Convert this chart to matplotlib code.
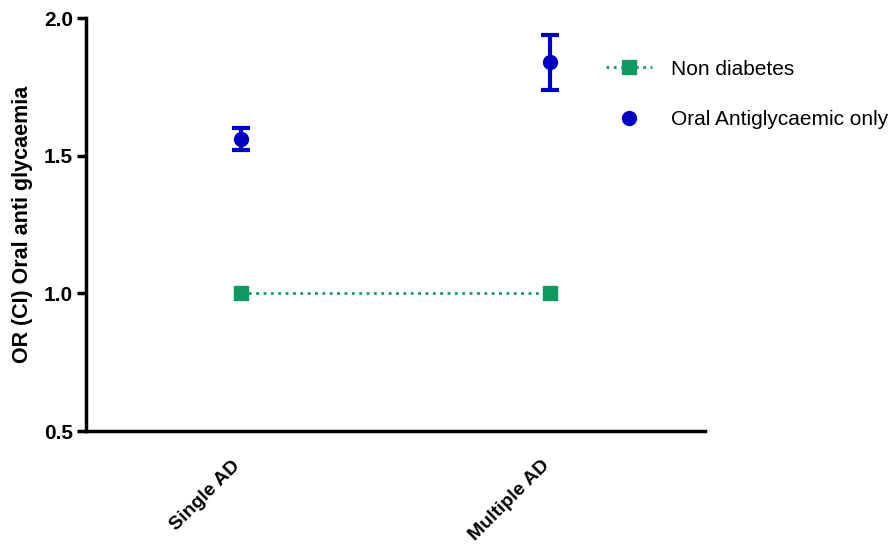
import numpy as np
import matplotlib
matplotlib.use('Agg')
import matplotlib.pyplot as plt
from matplotlib.lines import Line2D
from matplotlib.transforms import ScaledTranslation

plt.rcParams['font.family'] = ['Liberation Sans', 'DejaVu Sans']

categories = ['Single AD', 'Multiple AD']
non_diabetes = [1.0, 1.0]
oral_or = [1.56, 1.84]
oral_low = [1.52, 1.74]
oral_high = [1.60, 1.94]

green = '#109a62'
blue = '#0000c0'

fig = plt.figure(figsize=(8.93, 5.47), dpi=100)
ax = fig.add_axes([0.0963, 0.212, 0.6929, 0.755])

x = np.arange(len(categories))
ax.plot(x, non_diabetes, color=green, linestyle=':', linewidth=2,
        marker='s', markersize=10, label='Non diabetes')
yerr = [np.array(oral_or) - np.array(oral_low), np.array(oral_high) - np.array(oral_or)]
ax.errorbar(x, oral_or, yerr=yerr, fmt='o', color=blue, markersize=10,
            elinewidth=3, capsize=6.5, capthick=3, label='Oral Antiglycaemic only')

ax.set_xlim(-0.5, 1.5)
ax.set_ylim(0.5, 2.0)
ax.set_yticks([0.5, 1.0, 1.5, 2.0])
ax.set_yticklabels(['0.5', '1.0', '1.5', '2.0'], fontsize=15, fontweight='bold')
ax.set_xticks(x)
ax.set_xticklabels(categories, rotation=45, ha='right', rotation_mode='anchor',
                   fontsize=14, fontweight='bold')
ax.tick_params(axis='x', length=0, pad=19)
ax.tick_params(axis='y', length=6.5, width=2.5, pad=3)
shift = ScaledTranslation(-0.09, 0, fig.dpi_scale_trans)
for lab in ax.get_xticklabels():
    lab.set_transform(lab.get_transform() + shift)
ax.set_ylabel('OR (CI) Oral anti glycaemia', fontsize=15.5, fontweight='bold', labelpad=8)

for s in ['top', 'right']:
    ax.spines[s].set_visible(False)
for s in ['left', 'bottom']:
    ax.spines[s].set_linewidth(2.5)

handles = [
    Line2D([], [], color=green, linestyle=':', linewidth=2, marker='s', markersize=10),
    Line2D([], [], color=blue, linestyle='none', marker='o', markersize=10),
]
fig.legend(handles, ['Non diabetes', 'Oral Antiglycaemic only'],
           loc='upper left', bbox_to_anchor=(0.658, 0.925), frameon=False,
           fontsize=15, handlelength=2.2, labelspacing=1.5, handletextpad=0.9)

fig.savefig('out.png', dpi=100)
